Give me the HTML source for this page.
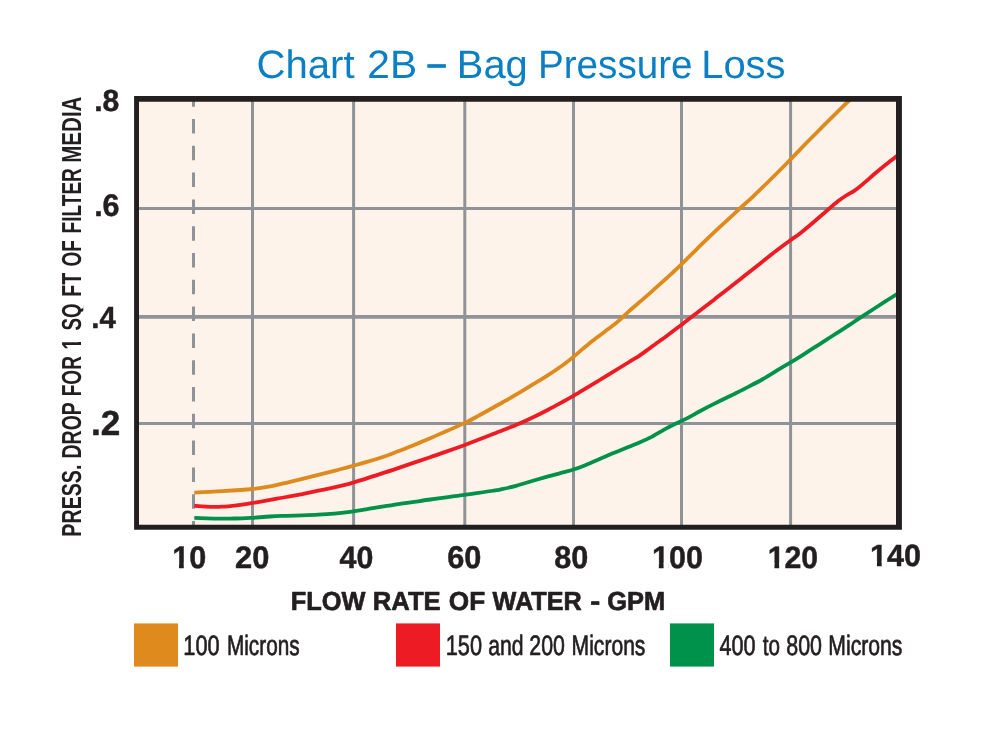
<!DOCTYPE html>
<html lang="en"><head><meta charset="utf-8"><title>Chart 2B – Bag Pressure Loss</title>
<style>html,body{margin:0;padding:0;background:#fff}svg{display:block}text{font-family:"Liberation Sans",sans-serif;text-rendering:geometricPrecision}</style></head>
<body>
<svg width="1000" height="730" viewBox="0 0 1000 730">
<rect width="1000" height="730" fill="#fff"/>
<rect x="136.5" y="98.6" width="762.5" height="428.6" fill="#fdf3ea"/>
<path d="M252.5,99V527M353.6,99V527M464.8,99V527M573.5,99V527M681.5,99V527M790.6,99V527M137,208.5H899M137,423.4H899" stroke="#8f9296" stroke-width="3" fill="none"/>
<path d="M137,316.9H899" stroke="#8f9296" stroke-width="3.8" fill="none"/>
<path d="M193.5,100V526" stroke="#8f9296" stroke-width="3" stroke-dasharray="14.5 12.3" stroke-dashoffset="7.8" fill="none"/>
<path d="M194.3,517.9C197.6,518.0 207.2,518.4 214.0,518.6C220.8,518.7 228.5,518.7 234.9,518.5C241.3,518.4 246.6,518.1 252.5,517.8C258.4,517.4 264.6,516.8 270.2,516.5C275.8,516.1 280.9,516.0 286.2,515.8C291.5,515.6 296.8,515.5 302.2,515.3C307.6,515.1 312.9,514.9 318.3,514.6C323.7,514.4 329.0,514.1 334.3,513.6C339.6,513.2 344.7,512.6 350.0,511.9C355.3,511.2 360.6,510.2 366.0,509.3C371.4,508.5 376.8,507.5 382.1,506.7C387.5,505.9 392.8,505.1 398.1,504.2C403.4,503.4 408.8,502.6 414.1,501.9C419.5,501.1 424.9,500.2 430.2,499.5C435.5,498.7 440.5,498.0 446.2,497.3C451.9,496.5 458.9,495.7 464.3,494.9C469.7,494.2 473.3,493.7 478.3,492.9C483.3,492.2 490.7,491.1 494.3,490.5C497.9,490.0 496.4,490.4 500.0,489.6C503.6,488.8 510.6,487.3 516.0,485.9C521.4,484.4 526.8,482.6 532.1,481.0C537.5,479.4 542.8,477.9 548.1,476.4C553.4,475.0 559.9,473.3 564.1,472.1C568.3,471.0 570.2,470.6 573.4,469.5C576.6,468.5 579.6,467.4 583.4,465.9C587.2,464.4 591.4,462.5 596.2,460.5C601.0,458.4 606.9,455.9 612.2,453.6C617.6,451.4 623.7,448.9 628.3,447.0C632.9,445.1 636.0,443.9 640.0,442.2C644.0,440.5 648.1,438.7 652.1,436.6C656.1,434.6 660.9,431.5 664.1,429.7C667.3,427.9 668.5,427.1 671.4,425.7C674.3,424.2 678.2,422.6 681.4,421.0C684.6,419.5 687.6,418.0 690.7,416.3C693.9,414.6 696.6,412.9 700.3,411.0C704.0,409.0 709.0,406.4 713.0,404.4C717.0,402.3 721.1,400.3 724.4,398.7C727.7,397.1 729.4,396.4 733.0,394.6C736.6,392.8 741.3,390.5 746.2,387.9C751.1,385.4 756.9,382.5 762.2,379.5C767.6,376.5 773.6,372.6 778.3,369.7C783.0,366.9 786.3,365.0 790.3,362.6C794.3,360.2 798.2,357.8 802.2,355.3C806.2,352.8 810.1,350.3 814.1,347.7C818.1,345.1 822.2,342.5 826.2,339.9C830.2,337.3 834.3,334.7 838.3,332.1C842.3,329.5 846.9,326.7 850.3,324.4C853.7,322.2 854.8,321.3 858.8,318.6C862.8,316.0 869.8,311.5 874.4,308.5C879.0,305.5 882.9,303.0 886.5,300.7C890.1,298.4 894.0,296.0 896.2,294.6C898.5,293.2 899.4,292.6 900.0,292.2" stroke="#00924a" stroke-width="3.8" fill="none" stroke-linejoin="round"/>
<path d="M194.3,505.7C196.2,505.9 201.4,506.6 206.0,506.7C210.6,506.9 216.8,507.0 222.1,506.7C227.4,506.5 233.0,505.8 238.1,505.2C243.2,504.6 247.2,503.9 252.5,503.0C257.9,502.1 264.6,500.8 270.2,499.8C275.8,498.8 280.9,498.0 286.2,497.0C291.5,496.0 296.8,495.1 302.2,494.1C307.6,493.0 312.9,491.8 318.3,490.7C323.7,489.5 329.0,488.5 334.3,487.4C339.6,486.2 344.7,485.0 350.0,483.6C355.3,482.1 360.6,480.3 366.0,478.6C371.4,476.9 376.8,475.2 382.1,473.4C387.5,471.7 392.8,469.9 398.1,468.1C403.4,466.3 408.8,464.4 414.1,462.6C419.5,460.8 424.9,459.0 430.2,457.2C435.5,455.4 440.5,453.6 446.2,451.6C451.9,449.6 458.9,447.1 464.3,445.2C469.7,443.2 473.3,441.7 478.3,439.8C483.3,437.9 490.7,435.0 494.3,433.6C497.9,432.1 496.4,432.7 500.0,431.3C503.6,429.8 510.6,427.2 516.0,425.0C521.4,422.7 526.8,420.3 532.1,417.7C537.5,415.2 542.8,412.5 548.1,409.7C553.4,406.9 559.9,403.3 564.1,401.0C568.3,398.7 570.2,397.7 573.4,395.8C576.6,394.0 579.6,392.2 583.4,389.9C587.2,387.6 591.4,385.0 596.2,382.1C601.0,379.1 606.9,375.6 612.2,372.3C617.6,369.1 623.8,365.3 628.3,362.5C632.8,359.7 636.0,357.9 639.5,355.6C643.0,353.3 645.7,351.2 649.1,348.7C652.5,346.2 657.2,342.7 660.0,340.7C662.8,338.7 662.4,339.2 666.0,336.5C669.6,333.8 676.2,328.8 681.6,324.7C687.0,320.6 692.7,316.1 698.1,311.9C703.5,307.7 711.0,302.1 714.1,299.7C717.2,297.2 714.4,299.4 717.0,297.3C719.6,295.3 725.3,290.9 729.8,287.4C734.3,283.8 739.1,280.1 744.2,276.1C749.3,272.1 754.9,267.6 760.2,263.4C765.6,259.2 771.3,254.5 776.3,250.7C781.3,246.8 786.4,243.1 790.4,240.2C794.4,237.4 796.4,236.2 800.0,233.4C803.6,230.6 807.8,227.1 812.0,223.5C816.2,220.0 821.0,215.7 825.4,212.0C829.8,208.2 834.7,203.9 838.2,201.1C841.7,198.4 843.5,197.2 846.2,195.5C848.9,193.8 851.5,192.6 854.2,190.8C856.9,189.0 858.2,188.0 862.2,184.6C866.2,181.3 872.6,175.4 878.3,170.7C884.0,166.0 892.6,159.3 896.2,156.4C899.8,153.5 899.4,153.9 900.0,153.4" stroke="#ed1c24" stroke-width="3.8" fill="none" stroke-linejoin="round"/>
<path d="M194.3,492.6C198.9,492.4 212.4,491.8 222.1,491.2C231.8,490.6 244.5,489.8 252.5,489.0C260.5,488.2 264.6,487.4 270.2,486.4C275.8,485.4 280.9,484.1 286.2,482.8C291.5,481.6 296.8,480.2 302.2,478.9C307.6,477.6 312.9,476.2 318.3,474.9C323.7,473.6 329.0,472.2 334.3,470.9C339.6,469.5 344.7,468.0 350.0,466.6C355.3,465.1 360.6,463.7 366.0,462.1C371.4,460.6 376.8,459.0 382.1,457.2C387.5,455.4 392.8,453.3 398.1,451.3C403.4,449.2 408.8,447.1 414.1,444.9C419.5,442.7 424.9,440.5 430.2,438.2C435.5,435.9 440.5,433.8 446.2,431.3C451.9,428.8 458.9,425.7 464.3,423.1C469.7,420.6 473.3,418.6 478.3,415.9C483.3,413.2 490.2,409.3 494.3,407.0C498.4,404.7 499.6,404.1 503.2,402.0C506.8,400.0 511.2,397.6 516.0,394.7C520.8,391.9 526.8,388.2 532.1,384.9C537.5,381.7 542.8,378.5 548.1,375.1C553.4,371.6 559.9,367.2 564.1,364.2C568.3,361.2 570.2,359.6 573.4,356.9C576.6,354.3 579.6,351.6 583.4,348.4C587.2,345.3 591.4,341.8 596.2,338.1C601.0,334.4 608.5,329.0 612.2,326.1C615.9,323.2 615.9,323.2 618.6,320.8C621.3,318.5 624.0,315.7 628.3,311.8C632.6,308.0 639.9,301.9 644.5,297.9C649.1,293.8 651.4,291.8 656.0,287.7C660.6,283.6 667.9,277.0 672.1,273.1C676.3,269.2 677.4,268.2 681.4,264.3C685.4,260.4 692.3,253.6 696.1,249.8C699.9,246.1 700.1,245.7 704.1,241.8C708.1,238.0 714.5,232.0 720.2,226.7C726.0,221.3 733.3,214.5 738.6,209.6C743.9,204.7 747.5,201.7 752.2,197.3C756.9,192.8 762.0,187.9 767.0,183.0C772.0,178.1 778.2,172.0 782.1,168.0C786.0,164.1 786.6,163.4 790.6,159.3C794.6,155.2 800.9,148.7 806.1,143.3C811.4,138.0 816.8,132.5 822.1,127.2C827.5,121.8 834.1,115.2 838.2,111.1C842.4,107.0 845.0,104.4 847.0,102.5C849.0,100.6 849.7,99.9 850.2,99.4" stroke="#df8a1c" stroke-width="3.8" fill="none" stroke-linejoin="round"/>
<path fill-rule="evenodd" d="M134.1,96H901.9V529.7H134.1ZM139,101.7V524.8H896V101.7Z" fill="#231f20"/>
<rect x="134" y="623.4" width="44" height="43.2" fill="#df8a1c"/>
<rect x="396" y="623.4" width="44" height="43.2" fill="#ed1c24"/>
<rect x="670" y="623.4" width="44" height="43.2" fill="#00924a"/>
<text transform="translate(94.15,110.75) scale(0.9889,1)" font-size="30.46" font-weight="700" fill="#231f20" stroke="#231f20" stroke-width="0.46" stroke-linejoin="round">.8</text>
<text transform="translate(94.13,216.28) scale(0.9782,1)" font-size="31.21" font-weight="700" fill="#231f20" stroke="#231f20" stroke-width="0.47" stroke-linejoin="round">.6</text>
<text transform="translate(91.34,328.34) scale(0.9626,1)" font-size="30.50" font-weight="700" fill="#231f20" stroke="#231f20" stroke-width="0.46" stroke-linejoin="round">.4</text>
<text transform="translate(90.99,435.25) scale(1.0083,1)" font-size="34.85" font-weight="700" fill="#231f20" stroke="#231f20" stroke-width="0.52" stroke-linejoin="round">.2</text>
<text transform="translate(172.16,568.18) scale(0.9832,1)" font-size="31.11" font-weight="700" fill="#231f20" stroke="#231f20" stroke-width="0.47" stroke-linejoin="round" clip-path="url(#f1)">10</text>
<text transform="translate(235.07,568.18) scale(0.9918,1)" font-size="31.11" font-weight="700" fill="#231f20" stroke="#231f20" stroke-width="0.47" stroke-linejoin="round">20</text>
<text transform="translate(339.60,568.08) scale(0.9851,1)" font-size="30.83" font-weight="700" fill="#231f20" stroke="#231f20" stroke-width="0.46" stroke-linejoin="round">40</text>
<text transform="translate(447.18,568.27) scale(0.9800,1)" font-size="31.39" font-weight="700" fill="#231f20" stroke="#231f20" stroke-width="0.47" stroke-linejoin="round">60</text>
<text transform="translate(554.29,568.27) scale(0.9768,1)" font-size="31.39" font-weight="700" fill="#231f20" stroke="#231f20" stroke-width="0.47" stroke-linejoin="round">80</text>
<text transform="translate(651.97,568.28) scale(0.9827,1)" font-size="31.11" font-weight="700" fill="#231f20" stroke="#231f20" stroke-width="0.47" stroke-linejoin="round" clip-path="url(#f2)">100</text>
<text transform="translate(767.68,568.08) scale(0.9812,1)" font-size="30.83" font-weight="700" fill="#231f20" stroke="#231f20" stroke-width="0.46" stroke-linejoin="round" clip-path="url(#f3)">120</text>
<text transform="translate(870.07,566.39) scale(0.9961,1)" font-size="30.69" font-weight="700" fill="#231f20" stroke="#231f20" stroke-width="0.46" stroke-linejoin="round" clip-path="url(#f4)">140</text>
<g font-size="39.59" font-weight="400" fill="#0b7fc4">
<text transform="translate(256.39,77.80) scale(1.0146,1)">Chart</text>
<text transform="translate(367.36,77.80) scale(1.0284,1)">2B</text>
<text transform="translate(427.65,75.90) scale(0.8074,1)" stroke="#0b7fc4" stroke-width="0.9">–</text>
<text transform="translate(456.81,77.80) scale(1.0073,1)">Bag</text>
<text transform="translate(537.91,77.80) scale(0.9765,1)">Pressure</text>
<text transform="translate(701.21,77.80) scale(1.0079,1)">Loss</text>
</g>
<g font-size="26.16" font-weight="700" fill="#231f20" stroke="#231f20" stroke-width="0.68" stroke-linejoin="round">
<text transform="translate(290.73,609.58) scale(0.9700,1)">FLOW</text>
<text transform="translate(372.72,609.58) scale(0.9815,1)">RATE</text>
<text transform="translate(448.82,609.58) scale(1.0000,1)">OF</text>
<text transform="translate(492.55,609.58) scale(0.9641,1)">WATER</text>
<text transform="translate(590.30,609.58) scale(1.1466,1)">-</text>
<text transform="translate(607.24,609.58) scale(0.9721,1)">GPM</text>
</g>
<g font-size="28.03" font-weight="400" fill="#231f20" stroke="#231f20" stroke-width="0.70" stroke-linejoin="round">
<text transform="translate(183.29,654.54) scale(0.7768,1)">100</text>
<text transform="translate(226.95,654.54) scale(0.7408,1)">Microns</text>
</g>
<g font-size="28.03" font-weight="400" fill="#231f20" stroke="#231f20" stroke-width="0.70" stroke-linejoin="round">
<text transform="translate(445.69,654.54) scale(0.7768,1)">150</text>
<text transform="translate(488.16,654.54) scale(0.7563,1)">and</text>
<text transform="translate(529.35,654.54) scale(0.7604,1)">200</text>
<text transform="translate(571.62,654.54) scale(0.7523,1)">Microns</text>
</g>
<g font-size="28.03" font-weight="400" fill="#231f20" stroke="#231f20" stroke-width="0.70" stroke-linejoin="round">
<text transform="translate(719.58,654.54) scale(0.7705,1)">400</text>
<text transform="translate(762.70,654.54) scale(0.7359,1)">to</text>
<text transform="translate(786.26,654.54) scale(0.7646,1)">800</text>
<text transform="translate(828.32,654.54) scale(0.7555,1)">Microns</text>
</g>
<g font-size="27.54" font-weight="700" fill="#231f20">
<text transform="translate(81.30,536.68) rotate(-90) scale(0.7140,1)">PRESS.</text>
<text transform="translate(81.30,458.46) rotate(-90) scale(0.7067,1)">DROP</text>
<text transform="translate(81.30,396.33) rotate(-90) scale(0.6922,1)">FOR</text>
<text transform="translate(81.30,349.41) rotate(-90) scale(0.7050,1)" clip-path="url(#f5)">1</text>
<text transform="translate(81.30,330.56) rotate(-90) scale(0.6839,1)" clip-path="url(#q)">SQ</text>
<text transform="translate(81.30,296.78) rotate(-90) scale(0.7168,1)">FT</text>
<text transform="translate(81.30,266.46) rotate(-90) scale(0.6875,1)">OF</text>
<text transform="translate(81.30,233.43) rotate(-90) scale(0.6925,1)">FILTER</text>
<text transform="translate(81.30,162.74) rotate(-90) scale(0.7461,1)">MEDIA</text>
</g>
<defs><clipPath id="f1"><path clip-rule="evenodd" d="M-31.1,-62.2H186.7V31.1H-31.1ZM-3.11,-5.35V2.49H7.00V-5.35ZM11.79,-5.35V2.49H17.11V-5.35Z"/></clipPath><clipPath id="f2"><path clip-rule="evenodd" d="M-31.1,-62.2H186.7V31.1H-31.1ZM-3.11,-5.35V2.49H7.00V-5.35ZM11.79,-5.35V2.49H17.11V-5.35Z"/></clipPath><clipPath id="f3"><path clip-rule="evenodd" d="M-30.8,-61.7H185.0V30.8H-30.8ZM-3.08,-5.30V2.47H6.93V-5.30ZM11.69,-5.30V2.47H16.96V-5.30Z"/></clipPath><clipPath id="f4"><path clip-rule="evenodd" d="M-30.7,-61.4H184.2V30.7H-30.7ZM-3.07,-5.28V2.46H6.90V-5.28ZM11.64,-5.28V2.46H16.88V-5.28Z"/></clipPath><clipPath id="f5"><path clip-rule="evenodd" d="M-27.5,-55.1H165.2V27.5H-27.5ZM-2.75,-4.74V2.20H6.19V-4.74ZM10.44,-4.74V2.20H15.14V-4.74Z"/></clipPath><clipPath id="q"><rect x="-5" y="-33.0" width="110.1" height="34.97"/></clipPath></defs>
</svg>
</body></html>
